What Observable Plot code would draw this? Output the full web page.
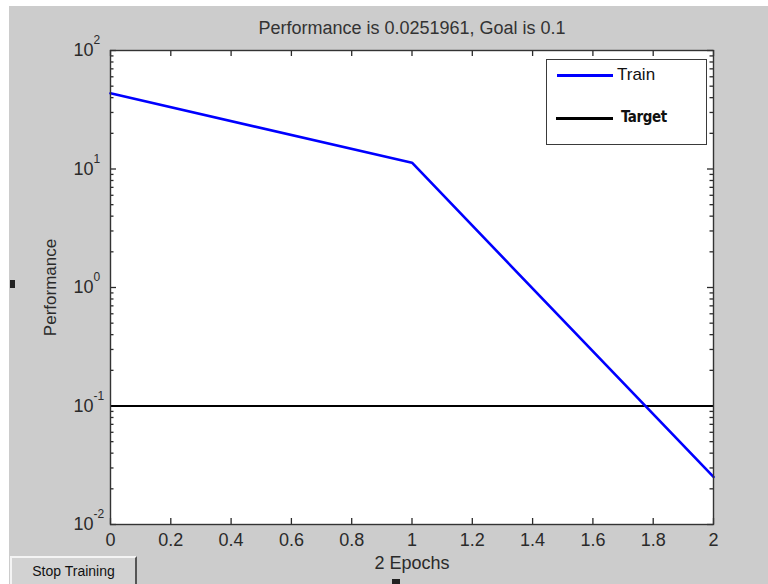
<!DOCTYPE html>
<html>
<head>
<meta charset="utf-8">
<script src="https://cdn.jsdelivr.net/npm/d3@7"></script>
<script src="https://cdn.jsdelivr.net/npm/@observablehq/plot@0.6"></script>
<style>
  html, body { margin: 0; padding: 0; background: #ffffff; width: 768px; height: 584px; overflow: hidden; }
  #fig { position: absolute; left: 9px; top: 6px; width: 759px; height: 578px; background: #cccccc; }
  #legend { position: absolute; left: 546px; top: 59px; width: 159px; height: 84px; background: #ffffff; border: 1px solid #3a3a3a; font-family: "Liberation Sans", Arial, sans-serif; color: #111; }
  .lline { position: absolute; height: 3px; }
  .ltext { position: absolute; font-size: 17px; line-height: 18px; }
  #btn { position: absolute; left: 10px; top: 556px; width: 123px; height: 26px; background: #d2d2d2;
         border-top: 2px solid #f4f4f4; border-left: 2px solid #f4f4f4; border-right: 2px solid #555; border-bottom: 2px solid #555;
         font-family: "Liberation Sans", Arial, sans-serif; font-size: 14px; color: #111; text-align: center; line-height: 26px; }
  .blk { position: absolute; background: #222; }
</style>
</head>
<body>
<div id="fig"></div>
<div id="legend">
  <div class="lline" style="left:10px; top:14px; width:56px; background:#0000ff;"></div>
  <div class="ltext" style="left:70px; top:6px;">Train</div>
  <div class="lline" style="left:9px; top:57px; width:57px; background:#000000;"></div>
  <div class="ltext" style="left:74px; top:48px; font-family:'DejaVu Sans Condensed','Liberation Sans Narrow',sans-serif; font-weight:bold; font-size:15px; letter-spacing:-0.4px;">Target</div>
</div>
<div id="btn">Stop Training</div>
<div class="blk" style="left:10px; top:280px; width:5px; height:8px;"></div>
<div class="blk" style="left:392px; top:579px; width:8px; height:5px;"></div>
<script>
// ---- data ----
const epochs = [0, 1, 2];
const trainPerf = [43.5, 11.3, 0.0251961];
const goal = 0.1;
const titleText = "Performance is 0.0251961, Goal is 0.1";
const xLabel = "2 Epochs";
const yLabel = "Performance";
const xTicks = [0, 0.2, 0.4, 0.6, 0.8, 1, 1.2, 1.4, 1.6, 1.8, 2];
const xTickLabels = ["0", "0.2", "0.4", "0.6", "0.8", "1", "1.2", "1.4", "1.6", "1.8", "2"];
const yMajor = [0.01, 0.1, 1, 10, 100];
const yExponents = ["-2", "-1", "0", "1", "2"];
const minorMultipliers = [2, 3, 4, 5, 6, 7, 8, 9];

const train = epochs.map((e, i) => ({epoch: e, perf: trainPerf[i]}));
const yMinor = [];
for (const m of yMajor.slice(0, -1)) for (const k of minorMultipliers) yMinor.push(m * k);
const yMajorRows = yMajor.map((v, i) => ({v, exp: yExponents[i]}));
const xTickRows = xTicks.map((v, i) => ({v, label: xTickLabels[i]}));

const W = 759, H = 578;
const mL = 101, mT = 44, mR = 55, mB = 60;
const fw = W - mL - mR, fh = H - mT - mB;
const ink = "#2a2a2a";

const chart = Plot.plot({
  width: W, height: H,
  marginLeft: mL, marginTop: mT, marginRight: mR, marginBottom: mB,
  style: {background: "#cccccc", fontFamily: "'Liberation Sans', Arial, sans-serif", color: ink, overflow: "visible"},
  x: {domain: [0, 2], axis: null},
  y: {type: "log", domain: [0.01, 100], axis: null},
  marks: [
    Plot.frame({fill: "#ffffff", stroke: null}),
    // x ticks bottom & top (inward)
    Plot.tickX(xTicks, {x: d => d, insetTop: fh - 6, stroke: ink, strokeWidth: 1.3}),
    Plot.tickX(xTicks, {x: d => d, insetBottom: fh - 6, stroke: ink, strokeWidth: 1.3}),
    // y major ticks left & right
    Plot.tickY(yMajor, {y: d => d, insetRight: fw - 6, stroke: ink, strokeWidth: 1.3}),
    Plot.tickY(yMajor, {y: d => d, insetLeft: fw - 6, stroke: ink, strokeWidth: 1.3}),
    // y minor ticks
    Plot.tickY(yMinor, {y: d => d, insetRight: fw - 3.5, stroke: ink, strokeWidth: 1.3}),
    Plot.tickY(yMinor, {y: d => d, insetLeft: fw - 3.5, stroke: ink, strokeWidth: 1.3}),
    // goal
    Plot.ruleY([goal], {stroke: "#000000", strokeWidth: 2}),
    // train
    Plot.line(train, {x: "epoch", y: "perf", stroke: "#0000ff", strokeWidth: 2.6}),
    Plot.frame({stroke: "#333333", strokeWidth: 1.4}),
    // tick labels
    Plot.text(xTickRows, {x: "v", text: "label", frameAnchor: "bottom", dy: 16, lineAnchor: "middle", textAnchor: "middle", fontSize: 18, fill: ink}),
    Plot.text(yMajorRows, {y: "v", text: () => "10", frameAnchor: "left", dx: -17, textAnchor: "end", lineAnchor: "middle", fontSize: 18, fill: ink}),
    Plot.text(yMajorRows, {y: "v", text: "exp", frameAnchor: "left", dx: -17, dy: -10, textAnchor: "start", lineAnchor: "middle", fontSize: 12, fill: ink}),
    // titles
    Plot.text([titleText], {frameAnchor: "top", dy: -22, lineAnchor: "middle", textAnchor: "middle", fontSize: 18, fill: "#333333"}),
    Plot.text([xLabel], {frameAnchor: "bottom", dy: 39, lineAnchor: "middle", textAnchor: "middle", fontSize: 18, fill: ink}),
    Plot.text([yLabel], {frameAnchor: "left", dx: -60, rotate: -90, lineAnchor: "middle", textAnchor: "middle", fontSize: 17, fill: ink})
  ]
});
document.getElementById("fig").appendChild(chart);
</script>
</body>
</html>
